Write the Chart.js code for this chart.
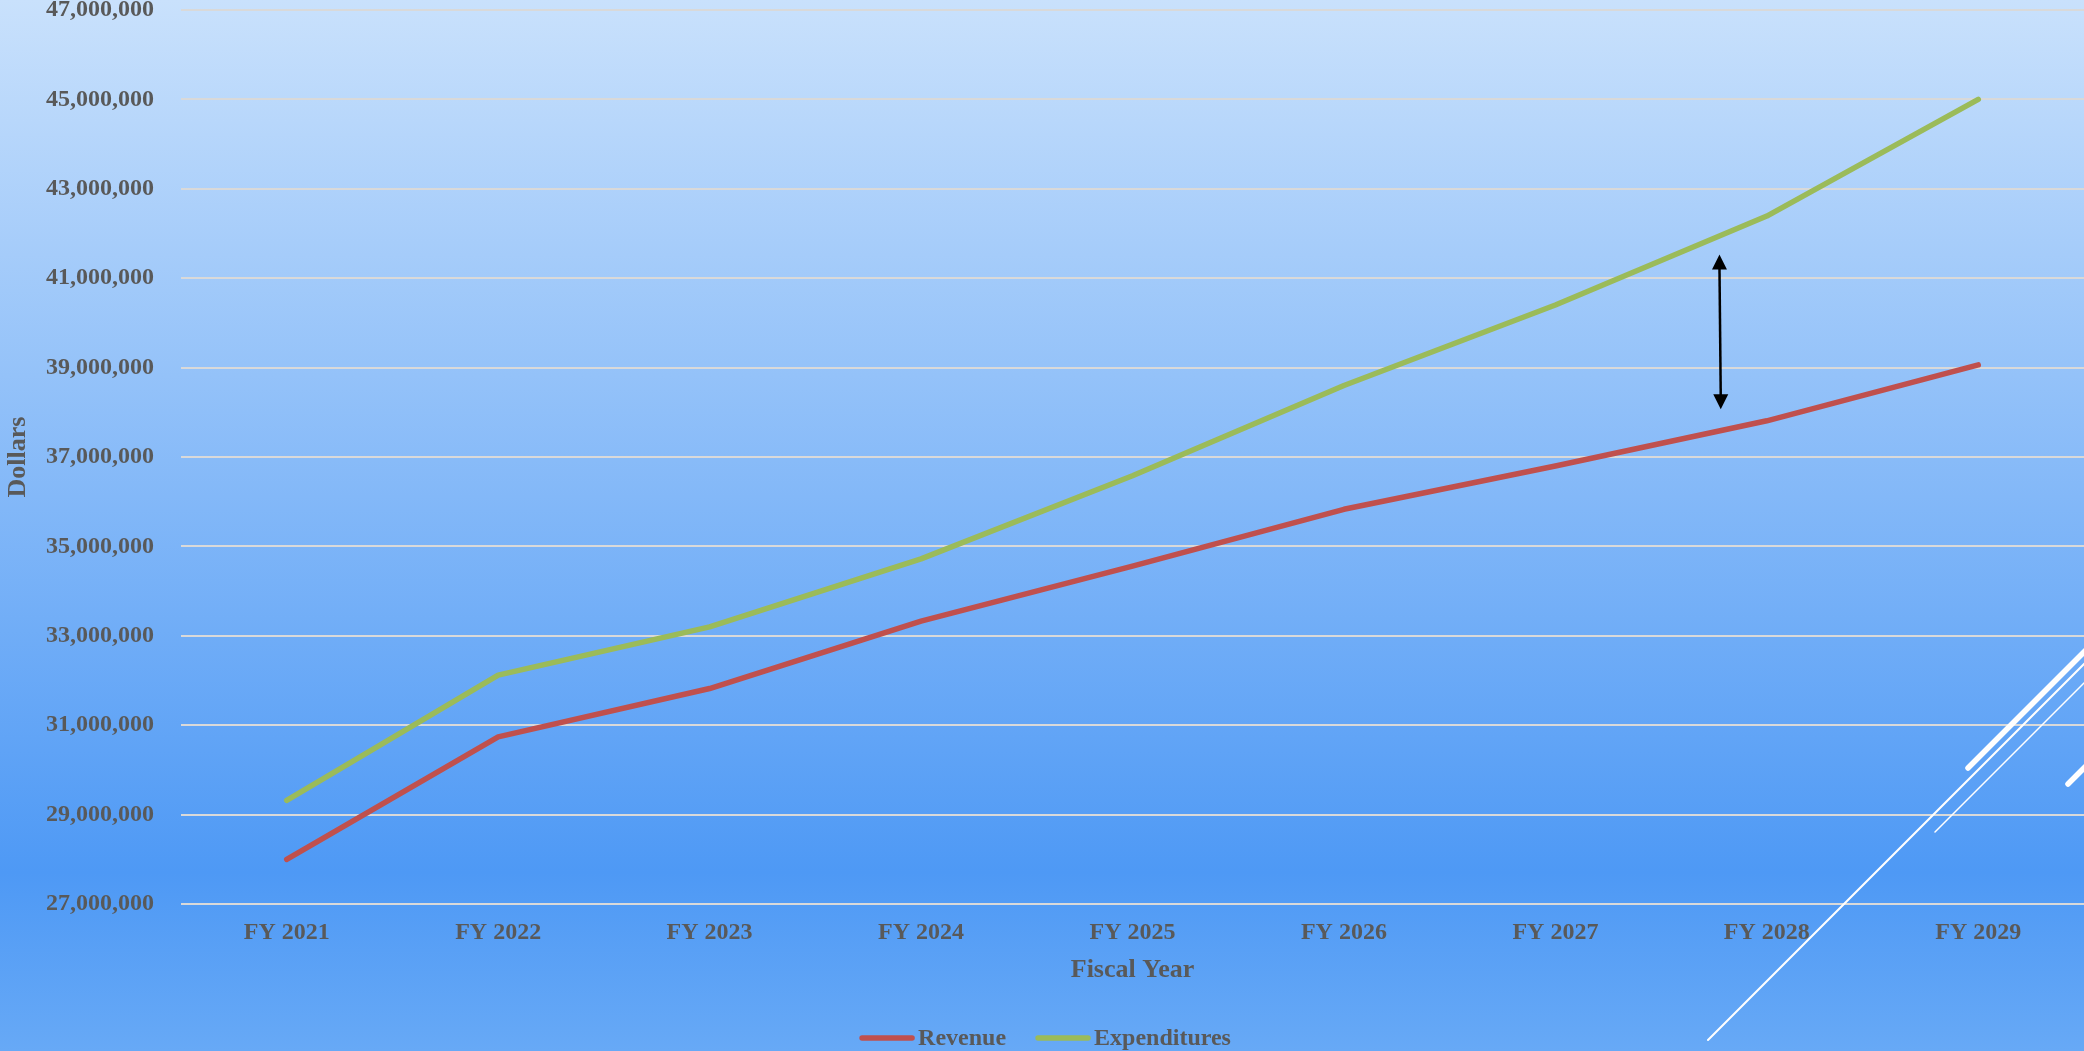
<!DOCTYPE html>
<html>
<head>
<meta charset="utf-8">
<title>Revenue vs Expenditures</title>
<script src="https://cdn.jsdelivr.net/npm/chart.js@4.4.1/dist/chart.umd.min.js"></script>
<style>
  html, body { margin: 0; padding: 0; }
  body {
    width: 2084px; height: 1051px; overflow: hidden;
    background: linear-gradient(to bottom, #c9e1fc 0%, #4e99f5 83%, #67a9f6 100%);
  }
  canvas { display: block; }
</style>
</head>
<body>
<canvas id="chart" width="2084" height="1051"></canvas>
<script>
// Fiscal years on the category axis
const fiscalYears = ['FY 2021', 'FY 2022', 'FY 2023', 'FY 2024', 'FY 2025', 'FY 2026', 'FY 2027', 'FY 2028', 'FY 2029'];

// Projected totals, dollars
const revenue      = [28000000, 30740000, 31820000, 33330000, 34560000, 35830000, 36800000, 37810000, 39060000];
const expenditures = [29320000, 32120000, 33200000, 34720000, 36580000, 38600000, 40400000, 42390000, 45000000];

// Value axis range and step
const yMin = 27000000;
const yMax = 47000000;
const yStep = 2000000;

// Gap marker between the two series (category index, dollar value)
const gapArrow = { top: [6.776, 41530000], bottom: [6.782, 38070000] };

const TEXT = '#595959';
const FONT_FAMILY = '"Liberation Serif", "Times New Roman", serif';
Chart.defaults.font.family = FONT_FAMILY;
Chart.defaults.color = TEXT;

// Legend drawn along the bottom edge with line swatches
const bottomLegend = {
  id: 'bottomLegend',
  afterDraw(chart) {
    const ctx = chart.ctx;
    ctx.save();
    ctx.font = 'bold 24px ' + FONT_FAMILY;
    const swatch = 56, gapText = 3, gapItem = 29;
    const items = chart.data.datasets.map(ds => ({ label: ds.label, color: ds.borderColor, w: ctx.measureText(ds.label).width }));
    const total = items.reduce((s, it) => s + swatch + gapText + it.w, 0) + gapItem * (items.length - 1);
    let x = chart.width / 2 + 3 - total / 2;
    const y = 1038;
    ctx.textBaseline = 'middle';
    ctx.textAlign = 'left';
    items.forEach(it => {
      ctx.strokeStyle = it.color;
      ctx.lineWidth = 5.5;
      ctx.lineCap = 'round';
      ctx.beginPath();
      ctx.moveTo(x + 3, y);
      ctx.lineTo(x + swatch - 3, y);
      ctx.stroke();
      ctx.fillStyle = TEXT;
      ctx.fillText(it.label, x + swatch + gapText, y + 1);
      x += swatch + gapText + it.w + gapItem;
    });
    ctx.restore();
  }
};

// Double-headed arrow showing the widening gap
const gapMarker = {
  id: 'gapMarker',
  afterDatasetsDraw(chart) {
    const xs = chart.scales.x, ys = chart.scales.y;
    const x1 = xs.getPixelForValue(gapArrow.top[0]), y1 = ys.getPixelForValue(gapArrow.top[1]);
    const x2 = xs.getPixelForValue(gapArrow.bottom[0]), y2 = ys.getPixelForValue(gapArrow.bottom[1]);
    const ctx = chart.ctx;
    const head = 15, half = 7.5;
    ctx.save();
    ctx.strokeStyle = '#000';
    ctx.fillStyle = '#000';
    ctx.lineWidth = 2.5;
    ctx.beginPath();
    ctx.moveTo(x1, y1 + head - 2);
    ctx.lineTo(x2, y2 - head + 2);
    ctx.stroke();
    ctx.beginPath();
    ctx.moveTo(x1, y1);
    ctx.lineTo(x1 - half, y1 + head);
    ctx.lineTo(x1 + half, y1 + head);
    ctx.closePath();
    ctx.fill();
    ctx.beginPath();
    ctx.moveTo(x2, y2);
    ctx.lineTo(x2 - half, y2 - head);
    ctx.lineTo(x2 + half, y2 - head);
    ctx.closePath();
    ctx.fill();
    ctx.restore();
  }
};

// Decorative diagonal strokes in the lower-right corner
const cornerStrokes = {
  id: 'cornerStrokes',
  afterDraw(chart) {
    const ctx = chart.ctx;
    const W = chart.width, H = chart.height;
    const strokes = [
      { x: W - 376, y: H - 11, len: 400, w: 2 },
      { x: W - 116, y: H - 283, len: 140, w: 5.5 },
      { x: W - 149, y: H - 219, len: 160, w: 1.5 },
      { x: W - 16,  y: H - 267, len: 40,  w: 5.5 }
    ];
    ctx.save();
    ctx.strokeStyle = '#ffffff';
    ctx.lineCap = 'round';
    strokes.forEach(s => {
      ctx.lineWidth = s.w;
      ctx.beginPath();
      ctx.moveTo(s.x, s.y);
      ctx.lineTo(s.x + s.len, s.y - s.len);
      ctx.stroke();
    });
    ctx.restore();
  }
};

const tickFont = { family: FONT_FAMILY, size: 24, weight: 'bold' };
const titleFont = { family: FONT_FAMILY, size: 26, weight: 'bold' };

new Chart(document.getElementById('chart'), {
  type: 'line',
  data: {
    labels: fiscalYears,
    datasets: [
      {
        label: 'Revenue',
        data: revenue,
        borderColor: '#c0504d',
        backgroundColor: '#c0504d',
        borderWidth: 5.5,
        borderCapStyle: 'round',
        borderJoinStyle: 'round',
        pointRadius: 0,
        tension: 0
      },
      {
        label: 'Expenditures',
        data: expenditures,
        borderColor: '#9bbb59',
        backgroundColor: '#9bbb59',
        borderWidth: 5.5,
        borderCapStyle: 'round',
        borderJoinStyle: 'round',
        pointRadius: 0,
        tension: 0
      }
    ]
  },
  options: {
    responsive: false,
    animation: false,
    devicePixelRatio: 1,
    layout: { padding: { top: 10, right: 0, bottom: 62, left: 0 } },
    plugins: {
      legend: { display: false },
      tooltip: { enabled: false }
    },
    scales: {
      x: {
        offset: true,
        grid: { display: false, drawTicks: false },
        border: { display: false },
        ticks: { font: tickFont, color: TEXT, padding: 14, maxRotation: 0, autoSkip: false },
        title: { display: true, text: 'Fiscal Year', font: titleFont, color: TEXT, padding: { top: 0, bottom: 3 } },
        afterFit(scale) { scale.height = 85; scale.paddingLeft = 0; scale.paddingRight = 0; }
      },
      y: {
        min: yMin,
        max: yMax,
        grid: { color: '#d9d9d9', lineWidth: 2, drawTicks: false },
        border: { display: false },
        ticks: {
          stepSize: yStep,
          font: tickFont,
          color: TEXT,
          padding: 27,
          callback: v => Number(v).toLocaleString('en-US')
        },
        title: { display: true, text: 'Dollars', font: titleFont, color: TEXT, padding: { top: 3, bottom: 0 } },
        afterFit(scale) { scale.width = 181; scale.paddingTop = 0; scale.paddingBottom = 0; }
      }
    }
  },
  plugins: [gapMarker, bottomLegend, cornerStrokes]
});
</script>
</body>
</html>
